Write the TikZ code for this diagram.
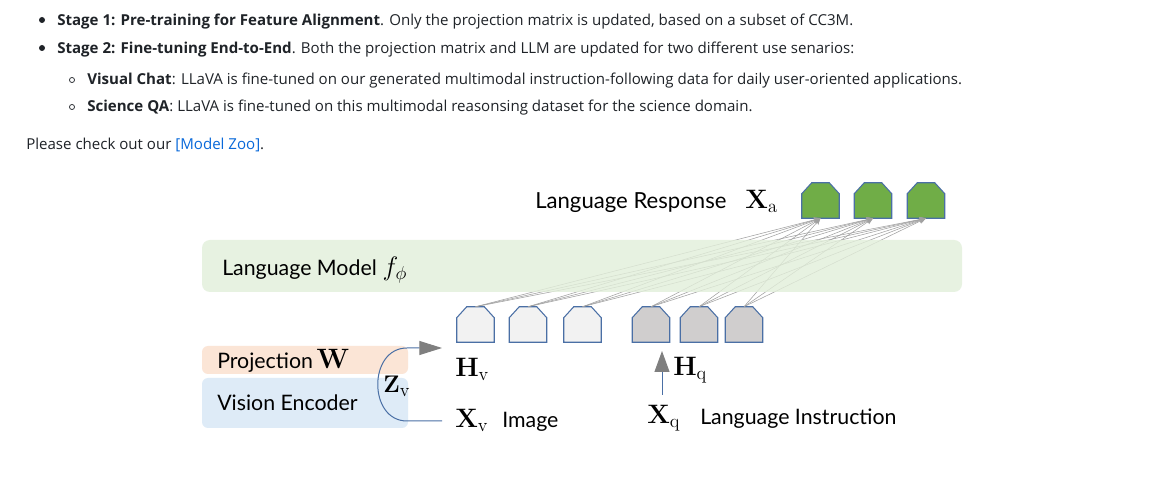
\RequirePackage{fix-cm}
\documentclass[tikz,border=0pt]{standalone}
\usepackage[no-math]{fontspec}
\setmainfont{Open Sans}
\newfontfamily\diagfont{Lato}
\usetikzlibrary{arrows.meta,calc}
\definecolor{ghtext}{HTML}{1F2328}
\definecolor{ghlink}{HTML}{0969DA}
\definecolor{lmgreen}{HTML}{E2EFDA}
\definecolor{projfill}{HTML}{FBE5D6}
\definecolor{visfill}{HTML}{DEEBF7}
\definecolor{tokgreen}{HTML}{70AD47}
\definecolor{toklight}{HTML}{F2F2F2}
\definecolor{tokgray}{HTML}{D0CECE}
\definecolor{tokedge}{HTML}{4A6FA5}
\definecolor{connc}{HTML}{A0A0A0}
\definecolor{arrowgray}{HTML}{7F7F7F}
\newcommand\housetok[4]{%
  \node[tokbase] (#1) at (#2,#3+17.5) {};
  \draw[tokline, fill=#4] (#1.south west) -- ($(#1.north west)+(0,11)$) -- ($(#1.north west)+(10,0)$)
    -- ($(#1.north east)+(-10,0)$) -- ($(#1.north east)+(0,11)$) -- (#1.south east) -- cycle;
}
\tikzset{
  txt/.style={anchor=base west, inner sep=0pt, text=ghtext, font=\fontsize{11.3pt}{14pt}\selectfont},
  bul/.style={circle, fill=ghtext, inner sep=0pt, minimum size=4.5pt},
  subbul/.style={circle, draw=ghtext, line width=0.55pt, inner sep=0pt, minimum size=3.8pt},
  dtxt/.style={anchor=base west, inner sep=0pt, text=black, font=\diagfont\fontsize{16pt}{18pt}\selectfont},
  mtxt/.style={anchor=base west, inner sep=0pt, text=black, font=\fontsize{20pt}{22pt}\selectfont},
  tokbase/.style={rectangle, draw=none, inner sep=0pt, minimum width=27.75pt, minimum height=26.25pt},
  tokline/.style={draw=tokedge, line width=0.8pt, line join=miter},
  conn/.style={draw=connc, line width=0.4pt, -{Stealth[length=5pt, width=4pt]}},
  lmbox/.style={rectangle, rounded corners=6pt, fill=lmgreen, fill opacity=0.8, draw=none, minimum width=570pt, minimum height=39pt, inner sep=0pt},
  encbox/.style={rectangle, rounded corners=4.5pt, draw=none, minimum width=154.5pt, inner sep=0pt},
  blueline/.style={draw=tokedge, line width=0.75pt},
}
\newcommand\msub[1]{_{\mbox{\fontsize{14pt}{16pt}\selectfont$\mathrm{#1}$}}}
\begin{document}
\begin{tikzpicture}[x=0.75pt, y=-0.75pt]
\useasboundingbox[fill=white] (0,0) rectangle (1168,491);

% ---------- page text ----------
\node[bul] (b1) at (42,20) {};
\node[bul] (b2) at (42,48) {};
\node[subbul] (s1) at (72,80) {};
\node[subbul] (s2) at (72,107) {};
\node[txt] (l1) at (57,25.5) {\textbf{Stage 1: Pre-training for Feature Alignment}. Only the projection matrix is updated, based on a subset of CC3M.};
\node[txt] (l2) at (57,53.3) {\textbf{Stage 2: Fine-tuning End-to-End}. Both the projection matrix and LLM are updated for two different use senarios:};
\node[txt] (l3) at (87,85) {\textbf{Visual Chat}: LLaVA is fine-tuned on our generated multimodal instruction-following data for daily user-oriented applications.};
\node[txt] (l4) at (87,111.7) {\textbf{Science QA}: LLaVA is fine-tuned on this multimodal reasonsing dataset for the science domain.};
\node[txt] (l5) at (26,150) {Please check out our \textcolor{ghlink}{[Model Zoo]}.};

% ---------- tokens ----------
\housetok{a1}{820.5}{183}{tokgreen}
\housetok{a2}{873}{183}{tokgreen}
\housetok{a3}{926}{183}{tokgreen}
\housetok{v1}{475.5}{307}{toklight}
\housetok{v2}{528}{307}{toklight}
\housetok{v3}{582.5}{307}{toklight}
\housetok{q1}{651}{307}{tokgray}
\housetok{q2}{699}{307}{tokgray}
\housetok{q3}{744}{307}{tokgray}

% ---------- connectors ----------
\foreach \s in {v1,v2,v3,q1,q2,q3}
  \foreach \t in {a1,a2,a3}
    \draw[conn] (\s.north) -- (\t.south);

% ---------- language model ----------
\node[lmbox] (lm) at (582,266) {};
\node[dtxt] (lmlabel) at (222,276) {Language Model\;{\fontsize{20pt}{22pt}\selectfont$f_\phi$}};

\node[dtxt, font=\diagfont\fontsize{16.6pt}{19pt}\selectfont] (resp) at (535,209) {Language Response};
\node[mtxt] (xa) at (745,209) {$\mathbf{X}\msub{a}$};

% ---------- encoder ----------
\node[encbox, fill=projfill, minimum height=21pt] (proj) at (305,360) {};
\node[encbox, fill=visfill, minimum height=37.5pt] (vis) at (305,403) {};
\node[dtxt] (projlabel) at (217,369) {Projection\,{\fontsize{21pt}{22pt}\selectfont$\mathbf{W}$}};
\node[dtxt] (vislabel) at (217,411) {Vision Encoder};
\node[mtxt, font=\fontsize{18pt}{20pt}\selectfont] (zv) at (383,393) {$\mathbf{Z}\msub{v}$};

\node[mtxt] (hv) at (455,377) {$\mathbf{H}\msub{v}$};
\node[mtxt] (xv) at (455,428) {$\mathbf{X}\msub{v}$};
\node[dtxt] (img) at (502,428) {Image};

\coordinate (cs) at (442,421);
\coordinate (ce) at (442,348);
\draw[blueline, -{Triangle[length=17pt, width=10.5pt, fill=arrowgray, color=arrowgray]}]
  (cs) -- (407,421) .. controls (368,421) and (368,348) .. (407,348) -- (ce);

% ---------- instruction ----------
\node[mtxt] (hq) at (673,376) {$\mathbf{H}\msub{q}$};
\node[mtxt] (xq) at (647,424) {$\mathbf{X}\msub{q}$};
\node[dtxt] (instr) at (700,425) {Language Instruction};
\coordinate (hqs) at (662,395);
\coordinate (hqe) at (662,351);
\draw[blueline, -{Triangle[length=15.75pt, width=11.25pt, fill=arrowgray, color=arrowgray]}] (hqs) -- (hqe);
\end{tikzpicture}
\end{document}
